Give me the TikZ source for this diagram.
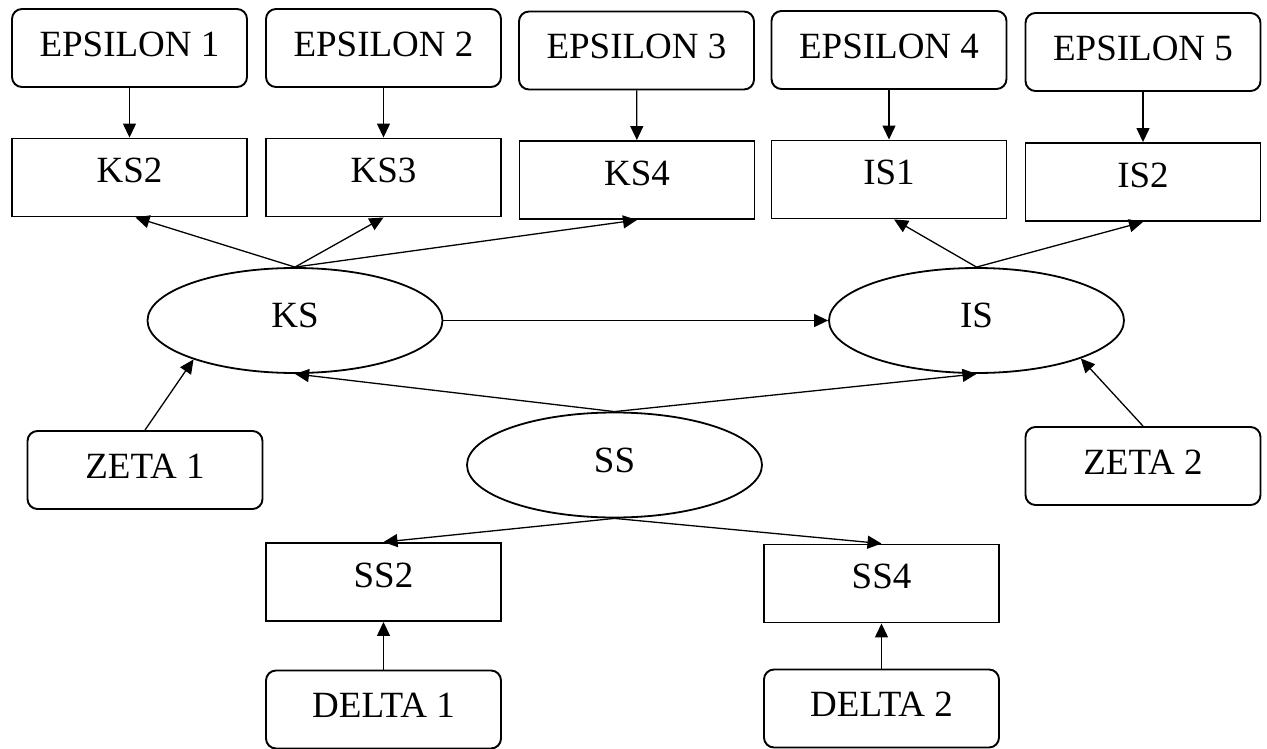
\documentclass[tikz,border=0pt]{standalone}
\usepackage{fontspec}
\setmainfont{Liberation Serif}
\usetikzlibrary{arrows.meta,shapes.geometric,calc}

\tikzset{
  lbl/.style={font=\fontsize{37}{40}\selectfont, inner sep=0pt},
  roundbox/.style={lbl, draw, line width=1.9pt, rounded corners=10pt,
    minimum width=235pt, minimum height=78pt, text height=26pt, text depth=9.8pt},
  rectbox/.style={lbl, draw, line width=1.9pt,
    minimum width=235pt, minimum height=78pt, text height=26pt, text depth=15.8pt},
  oval/.style={lbl, draw, ellipse, line width=1.8pt,
    minimum width=295pt, minimum height=105pt, text height=26pt, text depth=11.8pt},
  link/.style={line width=1.3pt, -{Triangle[length=14pt,width=13pt]}},
}

\begin{document}
\begin{tikzpicture}[x=1pt,y=-1pt]
\useasboundingbox (0,0) rectangle (1267,749);

% sources along the top
\node[roundbox] (eps1) at (129.5,48) {EPSILON 1};
\node[roundbox] (eps2) at (383.5,48) {EPSILON 2};
\node[roundbox] (eps3) at (636.5,50.5) {EPSILON 3};
\node[roundbox] (eps4) at (889,50) {EPSILON 4};
\node[roundbox] (eps5) at (1143,52) {EPSILON 5};

% indicator boxes
\node[rectbox] (ks2) at (129.5,177.5) {KS2};
\node[rectbox] (ks3) at (383.5,177.5) {KS3};
\node[rectbox] (ks4) at (637,180) {KS4};
\node[rectbox] (is1) at (889,179.5) {IS1};
\node[rectbox] (is2) at (1143,182) {IS2};

% latent constructs
\node[oval] (ks) at (295,320.5) {KS};
\node[oval] (is) at (976.5,320.5) {IS};
\node[oval] (ss) at (614.5,465) {SS};

% disturbances
\node[roundbox] (z1) at (145,470) {ZETA 1};
\node[roundbox] (z2) at (1143,466) {ZETA 2};

% lower indicators and their errors
\node[rectbox] (ss2) at (383.5,582) {SS2};
\node[rectbox] (ss4) at (881.5,583.5) {SS4};
\node[roundbox] (d1) at (383.5,709.5) {DELTA 1};
\node[roundbox] (d2) at (881.5,708.5) {DELTA 2};

% error terms into indicators
\draw[link] (eps1) -- (ks2);
\draw[link] (eps2) -- (ks3);
\draw[link] (eps3) -- (ks4);
\draw[link] (eps4) -- (is1);
\draw[link] (eps5) -- (is2);

% loadings
\draw[link] (ks.north) -- ($(ks2.south)+(6,0)$);
\draw[link] (ks.north) -- (ks3.south);
\draw[link] (ks.north) -- (ks4.south);
\draw[link] (is.north) -- ($(is1.south)+(5,0)$);
\draw[link] (is.north) -- (is2.south);

% structural paths
\draw[link] (ks) -- (is);
\draw[link] (ss.north) -- (ks.south);
\draw[link] (ss.north) -- (is.south);
\draw[link] (z1.north) -- (ks.201);
\draw[link] (z2.north) -- (is.-20);

% lower measurement part
\draw[link] (ss.south) -- (ss2.north);
\draw[link] (ss.south) -- (ss4.north);
\draw[link] (d1) -- (ss2);
\draw[link] (d2) -- (ss4);
\end{tikzpicture}
\end{document}
